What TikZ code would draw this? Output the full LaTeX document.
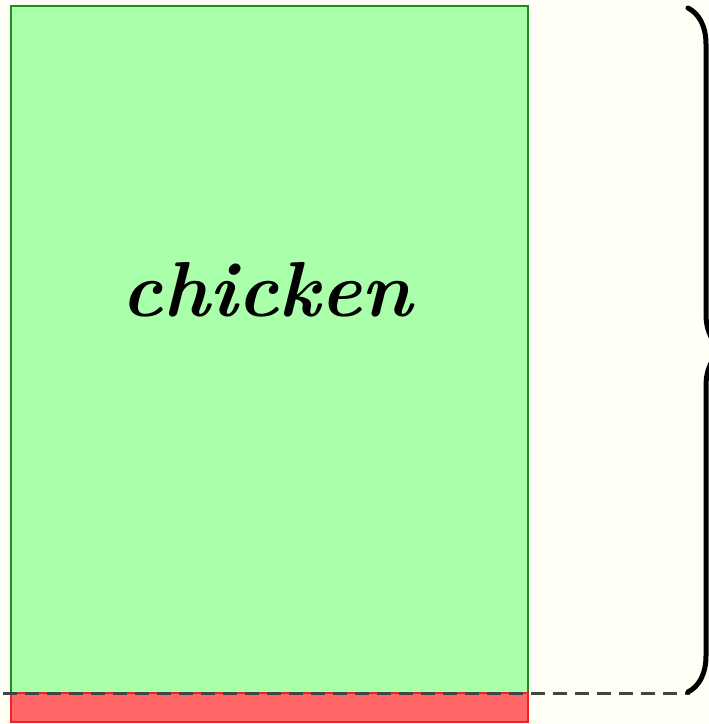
\documentclass[tikz,border=0pt]{standalone}
\usetikzlibrary{decorations.pathreplacing}
\definecolor{bgcream}{HTML}{FFFFF5}
\definecolor{greenfill}{HTML}{AAFFAA}
\definecolor{greenline}{HTML}{1E8C1E}
\definecolor{redfill}{HTML}{FF6666}
\definecolor{redline}{HTML}{EE2222}
\definecolor{dashgray}{HTML}{444444}
\tikzset{
  greenbox/.style={fill=greenfill, draw=greenline, line width=2pt},
  redbox/.style={fill=redfill, draw=redline, line width=2pt},
  baseline dash/.style={draw=dashgray, line width=3pt, dash pattern=on 14pt off 8pt},
  bracestyle/.style={draw=black, line width=5pt, line cap=round, decorate, decoration={brace, amplitude=36pt}},
  label/.style={font=\fontsize{78}{78}\selectfont\bfseries\itshape}
}
\begin{document}
\begin{tikzpicture}[x=1pt,y=-1pt]
\fill[bgcream] (0,0) rectangle (709,724);
\useasboundingbox (0,0) rectangle (709,724);
\path[greenbox] (11,6) rectangle (528,693);
\path[redbox] (11,693) rectangle (528,722);
\coordinate (dl) at (3,693);
\coordinate (dr) at (690,693);
\coordinate (bt) at (688,8);
\coordinate (bb) at (688,692);
\draw[baseline dash] (dl) -- (dr);
\draw[bracestyle] (bt) -- (bb);
\node[label] (chicken) at (267,290) {chicken};
\end{tikzpicture}
\end{document}
